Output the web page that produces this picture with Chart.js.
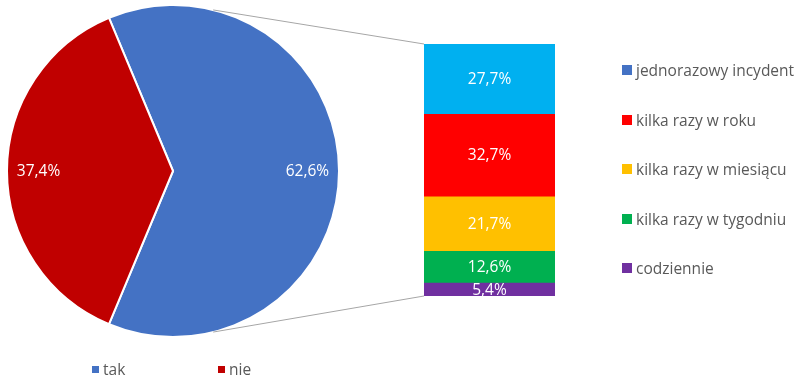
<!DOCTYPE html>
<html>
<head>
<meta charset="utf-8">
<script src="https://cdn.jsdelivr.net/npm/chart.js@4.4.1/dist/chart.umd.min.js"></script>
<style>
  body { margin: 0; background: #fff; font-family: "Open Sans", sans-serif; }
  #wrap { position: relative; width: 802px; height: 380px; overflow: hidden; }
  #wrap canvas { position: absolute; left: 0; top: 0; }
  .legend { position: absolute; color: #595959; font-size: 15.5px; }
  .legend .item { position: absolute; white-space: nowrap; display: flex; align-items: center; }
  .legend .box { display: inline-block; margin-right: 4px; }
</style>
</head>
<body>
<div id="wrap">
  <canvas id="pieChart" width="802" height="380"></canvas>
  <canvas id="barChart" width="802" height="380"></canvas>
  <div class="legend" id="pieLegend"></div>
  <div class="legend" id="barLegend"></div>
</div>
<script>
// main split
const pieLabels = ['tak', 'nie'];
const pieValues = [62.6, 37.4];
const pieColors = ['#4472C4', '#C00000'];

// breakdown of "tak"
const freqLabels = ['jednorazowy incydent', 'kilka razy w roku', 'kilka razy w miesiącu', 'kilka razy w tygodniu', 'codziennie'];
const freqValues = [27.7, 32.7, 21.7, 12.6, 5.4];
const freqColors = ['#00B0F0', '#FF0000', '#FFC000', '#00B050', '#7030A0'];
const freqLegendColors = ['#4472C4', '#FF0000', '#FFC000', '#00B050', '#7030A0'];

const fmt = v => v.toFixed(1).replace('.', ',') + '%';
const labelFont = '15.5px "Open Sans", sans-serif';

// white percentage labels inside slices / stacked segments
const valueLabels = {
    id: 'valueLabels',
    afterDatasetsDraw(chart) {
        const ctx = chart.ctx;
        ctx.save();
        ctx.fillStyle = '#fff';
        ctx.font = labelFont;
        ctx.textAlign = 'center';
        ctx.textBaseline = 'middle';
        chart.data.datasets.forEach((ds, di) => {
            chart.getDatasetMeta(di).data.forEach((el, i) => {
                let x, y;
                if (chart.config.type === 'pie') {
                    const mid = (el.startAngle + el.endAngle) / 2;
                    x = el.x + Math.cos(mid) * el.outerRadius * 0.81;
                    y = el.y + Math.sin(mid) * el.outerRadius * 0.81;
                } else {
                    x = el.x;
                    y = (el.y + el.base) / 2;
                }
                ctx.fillText(fmt(ds.data[i]), x, y + 1);
            });
        });
        ctx.restore();
    }
};

const pieChart = new Chart(document.getElementById('pieChart'), {
    type: 'pie',
    data: {
        labels: pieLabels,
        datasets: [{
            data: pieValues,
            backgroundColor: pieColors,
            borderColor: '#fff',
            borderWidth: 2
        }]
    },
    options: {
        responsive: false,
        animation: false,
        rotation: 90 - pieValues[0] / 100 * 180,
        layout: { padding: { left: 6, top: 4, right: 462, bottom: 42 } },
        plugins: { legend: { display: false }, tooltip: { enabled: false } }
    },
    plugins: [valueLabels]
});

// thin grey lines from the circle to the bar's corners
const connectors = {
    id: 'connectors',
    afterDatasetsDraw(chart) {
        const arc = pieChart.getDatasetMeta(0).data[0];
        const first = chart.getDatasetMeta(0).data[0];
        const last = chart.getDatasetMeta(chart.data.datasets.length - 1).data[0];
        const left = first.x - first.width / 2;
        const off = 14 * Math.PI / 180;
        const ctx = chart.ctx;
        ctx.save();
        ctx.strokeStyle = '#A6A6A6';
        ctx.lineWidth = 1;
        ctx.beginPath();
        ctx.moveTo(arc.x + Math.sin(off) * arc.outerRadius, arc.y - Math.cos(off) * arc.outerRadius);
        ctx.lineTo(left, first.base);
        ctx.moveTo(arc.x + Math.sin(off) * arc.outerRadius, arc.y + Math.cos(off) * arc.outerRadius);
        ctx.lineTo(left, last.y);
        ctx.stroke();
        ctx.restore();
    }
};

const total = freqValues.reduce((a, b) => a + b, 0);

new Chart(document.getElementById('barChart'), {
    type: 'bar',
    data: {
        labels: ['tak'],
        datasets: freqLabels.map((label, i) => ({
            label: label,
            data: [freqValues[i]],
            backgroundColor: freqColors[i],
            borderWidth: 0,
            barPercentage: 1,
            categoryPercentage: 1
        }))
    },
    options: {
        responsive: false,
        animation: false,
        layout: { padding: { left: 424, top: 44, right: 247, bottom: 84 } },
        scales: {
            x: { stacked: true, display: false },
            y: { stacked: true, display: false, reverse: true, min: 0, max: total }
        },
        plugins: { legend: { display: false }, tooltip: { enabled: false } }
    },
    plugins: [valueLabels, connectors]
});

// legends
function addItem(container, text, color, x, y, box) {
    const item = document.createElement('div');
    item.className = 'item';
    item.style.left = x + 'px';
    item.style.top = (y - 10) + 'px';
    item.style.height = '20px';
    const sq = document.createElement('span');
    sq.className = 'box';
    sq.style.width = box + 'px';
    sq.style.height = box + 'px';
    sq.style.background = color;
    item.appendChild(sq);
    item.appendChild(document.createTextNode(text));
    container.appendChild(item);
}

const pieLegend = document.getElementById('pieLegend');
pieLabels.forEach((l, i) => addItem(pieLegend, l, pieColors[i], 92 + i * 126, 369, 7));

const barLegend = document.getElementById('barLegend');
freqLabels.forEach((l, i) => addItem(barLegend, l, freqLegendColors[i], 622, 70 + i * 49.5, 10));
</script>
</body>
</html>
